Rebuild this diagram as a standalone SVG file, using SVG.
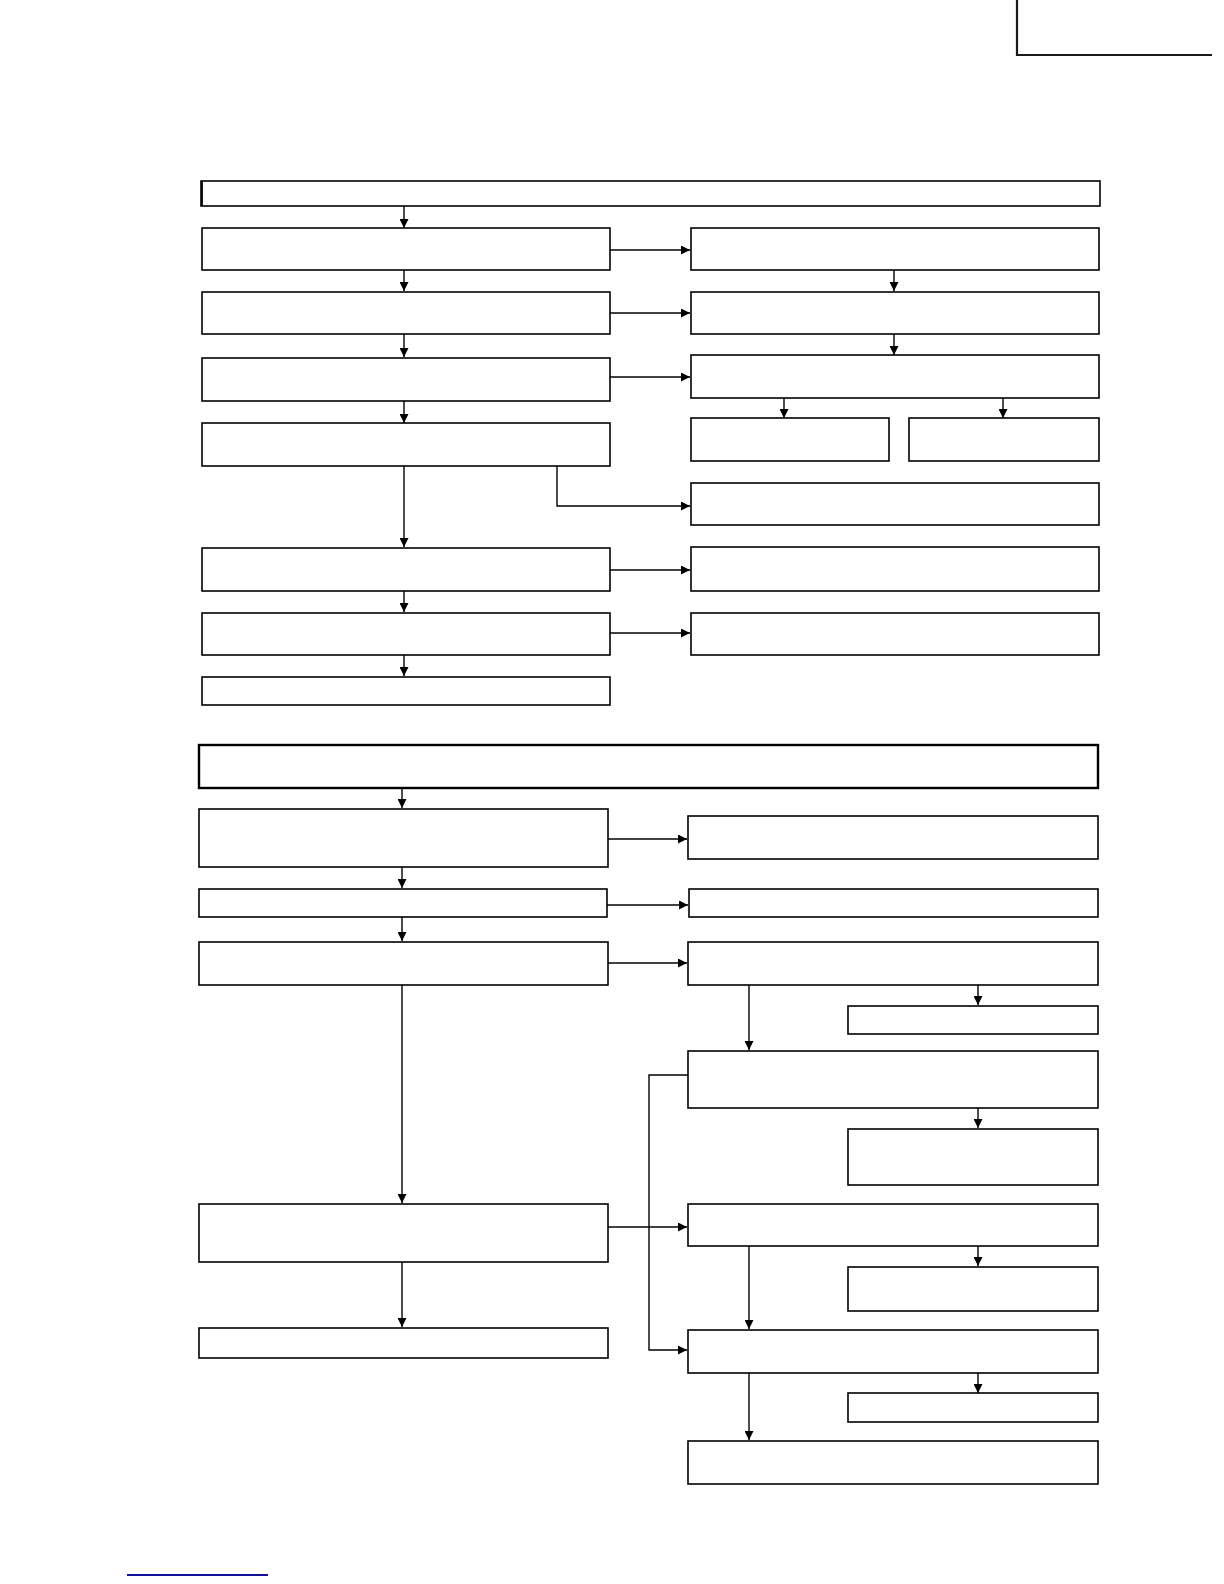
<svg xmlns="http://www.w3.org/2000/svg" width="1224" height="1584" viewBox="0 0 1224 1584">
<style>
.box{fill:#fff;stroke:#000;stroke-width:1.6}
.hdr{fill:#fff;stroke:#000;stroke-width:2.4}
.c{fill:none;stroke:#000;stroke-width:1.4}
</style>
<defs>
<marker id="ah" viewBox="0 0 10 10" refX="10" refY="5" markerWidth="9" markerHeight="9" markerUnits="userSpaceOnUse" orient="auto">
<path d="M0,0 L10,5 L0,10 z" fill="#000"/>
</marker>
</defs>
<rect width="1224" height="1584" fill="#fff"/>
<path d="M1017,0 V55 H1212" fill="none" stroke="#1a1a1a" stroke-width="2.2"/>
<line x1="127" y1="1575" x2="268" y2="1575" stroke="#10109a" stroke-width="1.8"/>

<g id="connectors">
<line class="c" x1="404" y1="206" x2="404" y2="228" marker-end="url(#ah)"/>
<line class="c" x1="610" y1="250" x2="690" y2="250" marker-end="url(#ah)"/>
<line class="c" x1="894" y1="270" x2="894" y2="291" marker-end="url(#ah)"/>
<line class="c" x1="404" y1="270" x2="404" y2="291" marker-end="url(#ah)"/>
<line class="c" x1="610" y1="313" x2="690" y2="313" marker-end="url(#ah)"/>
<line class="c" x1="894" y1="334" x2="894" y2="355" marker-end="url(#ah)"/>
<line class="c" x1="404" y1="334" x2="404" y2="357" marker-end="url(#ah)"/>
<line class="c" x1="610" y1="377" x2="690" y2="377" marker-end="url(#ah)"/>
<line class="c" x1="784" y1="398" x2="784" y2="418" marker-end="url(#ah)"/>
<line class="c" x1="1003" y1="398" x2="1003" y2="418" marker-end="url(#ah)"/>
<line class="c" x1="404" y1="401" x2="404" y2="423" marker-end="url(#ah)"/>
<line class="c" x1="404" y1="466" x2="404" y2="547" marker-end="url(#ah)"/>
<path class="c" d="M557,466 V506 H690" marker-end="url(#ah)"/>
<line class="c" x1="610" y1="570" x2="690" y2="570" marker-end="url(#ah)"/>
<line class="c" x1="404" y1="591" x2="404" y2="612" marker-end="url(#ah)"/>
<line class="c" x1="610" y1="633" x2="690" y2="633" marker-end="url(#ah)"/>
<line class="c" x1="404" y1="655" x2="404" y2="676" marker-end="url(#ah)"/>

<line class="c" x1="402" y1="788" x2="402" y2="808" marker-end="url(#ah)"/>
<line class="c" x1="608" y1="839" x2="687" y2="839" marker-end="url(#ah)"/>
<line class="c" x1="402" y1="867" x2="402" y2="888" marker-end="url(#ah)"/>
<line class="c" x1="607" y1="905" x2="688" y2="905" marker-end="url(#ah)"/>
<line class="c" x1="402" y1="917" x2="402" y2="941" marker-end="url(#ah)"/>
<line class="c" x1="608" y1="963" x2="687" y2="963" marker-end="url(#ah)"/>
<line class="c" x1="978" y1="985" x2="978" y2="1005" marker-end="url(#ah)"/>
<line class="c" x1="749" y1="985" x2="749" y2="1050" marker-end="url(#ah)"/>
<line class="c" x1="978" y1="1108" x2="978" y2="1128" marker-end="url(#ah)"/>
<path class="c" d="M688,1075 H649 V1350 H687" marker-end="url(#ah)"/>
<line class="c" x1="402" y1="985" x2="402" y2="1203" marker-end="url(#ah)"/>
<line class="c" x1="608" y1="1227" x2="687" y2="1227" marker-end="url(#ah)"/>
<line class="c" x1="978" y1="1246" x2="978" y2="1266" marker-end="url(#ah)"/>
<line class="c" x1="749" y1="1246" x2="749" y2="1329" marker-end="url(#ah)"/>
<line class="c" x1="978" y1="1373" x2="978" y2="1393" marker-end="url(#ah)"/>
<line class="c" x1="749" y1="1373" x2="749" y2="1440" marker-end="url(#ah)"/>
<line class="c" x1="402" y1="1262" x2="402" y2="1327" marker-end="url(#ah)"/>
</g>

<g id="hdr1"><rect class="box" x="201" y="181" width="899" height="25"/><line x1="202" y1="181" x2="202" y2="206" stroke="#000" stroke-width="1.8"/></g>
<g id="L1"><rect class="box" x="202" y="228" width="408" height="42"/></g>
<g id="R1"><rect class="box" x="691" y="228" width="408" height="42"/></g>
<g id="L2"><rect class="box" x="202" y="292" width="408" height="42"/></g>
<g id="R2"><rect class="box" x="691" y="292" width="408" height="42"/></g>
<g id="L3"><rect class="box" x="202" y="358" width="408" height="43"/></g>
<g id="R3"><rect class="box" x="691" y="355" width="408" height="43"/></g>
<g id="R3a"><rect class="box" x="691" y="418" width="198" height="43"/></g>
<g id="R3b"><rect class="box" x="909" y="418" width="190" height="43"/></g>
<g id="L4"><rect class="box" x="202" y="423" width="408" height="43"/></g>
<g id="R4"><rect class="box" x="691" y="483" width="408" height="42"/></g>
<g id="L5"><rect class="box" x="202" y="548" width="408" height="43"/></g>
<g id="R5"><rect class="box" x="691" y="547" width="408" height="44"/></g>
<g id="L6"><rect class="box" x="202" y="613" width="408" height="42"/></g>
<g id="R6"><rect class="box" x="691" y="613" width="408" height="42"/></g>
<g id="L7"><rect class="box" x="202" y="677" width="408" height="28"/></g>

<g id="hdr2"><rect class="hdr" x="199" y="745" width="899" height="43"/></g>
<g id="B1"><rect class="box" x="199" y="809" width="409" height="58"/></g>
<g id="BR1"><rect class="box" x="688" y="816" width="410" height="43"/></g>
<g id="B2"><rect class="box" x="199" y="889" width="408" height="28"/></g>
<g id="BR2"><rect class="box" x="689" y="889" width="409" height="28"/></g>
<g id="B3"><rect class="box" x="199" y="942" width="409" height="43"/></g>
<g id="BR3"><rect class="box" x="688" y="942" width="410" height="43"/></g>
<g id="BS1"><rect class="box" x="848" y="1006" width="250" height="28"/></g>
<g id="BR4"><rect class="box" x="688" y="1051" width="410" height="57"/></g>
<g id="BS2"><rect class="box" x="848" y="1129" width="250" height="56"/></g>
<g id="B4"><rect class="box" x="199" y="1204" width="409" height="58"/></g>
<g id="BR5"><rect class="box" x="688" y="1204" width="410" height="42"/></g>
<g id="BS3"><rect class="box" x="848" y="1267" width="250" height="44"/></g>
<g id="BR6"><rect class="box" x="688" y="1330" width="410" height="43"/></g>
<g id="BS4"><rect class="box" x="848" y="1393" width="250" height="29"/></g>
<g id="BR7"><rect class="box" x="688" y="1441" width="410" height="43"/></g>
<g id="B5"><rect class="box" x="199" y="1328" width="409" height="30"/></g>
</svg>
